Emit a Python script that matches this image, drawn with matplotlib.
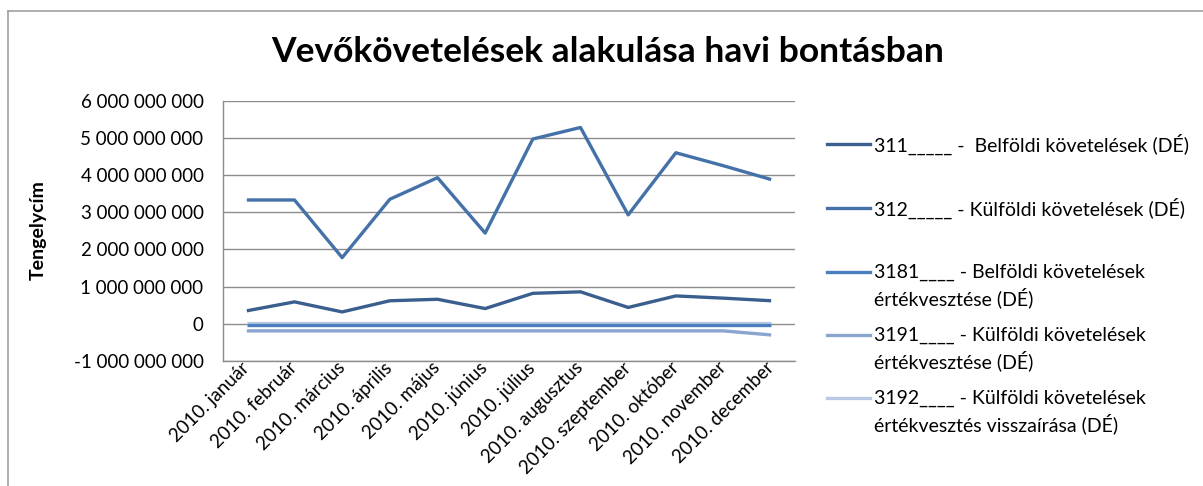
import matplotlib.pyplot as plt
from matplotlib.lines import Line2D
from matplotlib.ticker import FuncFormatter, MultipleLocator

plt.rcParams['font.family'] = ['Lato', 'DejaVu Sans']

# month names on the category axis
months = ['2010. január', '2010. február', '2010. március', '2010. április',
          '2010. május', '2010. június', '2010. július', '2010. augusztus',
          '2010. szeptember', '2010. október', '2010. november', '2010. december']

# values (Ft)
s311 = [0.35e9, 0.59e9, 0.32e9, 0.62e9, 0.66e9, 0.41e9, 0.82e9, 0.86e9, 0.44e9, 0.75e9, 0.69e9, 0.62e9]
s312 = [3.33e9, 3.33e9, 1.78e9, 3.35e9, 3.93e9, 2.44e9, 4.97e9, 5.28e9, 2.93e9, 4.60e9, 4.25e9, 3.88e9]
s3181 = [-0.04e9] * 12
s3191 = [-0.19e9, -0.19e9, -0.19e9, -0.19e9, -0.19e9, -0.19e9, -0.19e9, -0.19e9, -0.19e9, -0.19e9, -0.19e9, -0.30e9]
s3192 = [0.03e9] * 12

labels = ['311_____ -  Belföldi követelések (DÉ)',
          '312_____ - Külföldi követelések (DÉ)',
          '3181____ - Belföldi követelések\nértékvesztése (DÉ)',
          '3191____ - Külföldi követelések\nértékvesztése (DÉ)',
          '3192____ - Külföldi követelések\nértékvesztés visszaírása (DÉ)']
series = [s311, s312, s3181, s3191, s3192]
colors = ['#3A5E8E', '#4571A9', '#4A7EBD', '#8AA5CE', '#B9CAE4']
zorders = [5, 5, 4, 3, 2]

W, H = 1203, 486
fig = plt.figure(figsize=(W / 100, H / 100), dpi=100)
ax = fig.add_axes([223 / W, 1 - 361 / H, (795 - 223) / W, (361 - 100.7) / H])

x = range(len(months))
for s, c, z in zip(series, colors, zorders):
    ax.plot(x, s, color=c, lw=2.4, zorder=z, solid_capstyle='butt')

ax.set_xlim(-0.5, len(months) - 0.5)
ax.set_ylim(-1e9, 6e9)
ax.yaxis.set_major_locator(MultipleLocator(1e9))
ax.yaxis.set_major_formatter(FuncFormatter(lambda v, p: f"{int(round(v)):,}".replace(',', ' ')))
ax.grid(axis='y', color='#8C8C8C', lw=1.0)
ax.set_axisbelow(True)
for sp in ['top', 'right']:
    ax.spines[sp].set_visible(False)
for sp in ['left', 'bottom']:
    ax.spines[sp].set_color('#8C8C8C')
    ax.spines[sp].set_linewidth(1.0)
ax.tick_params(axis='y', length=0, pad=14, labelsize=13.5)
ax.tick_params(axis='x', length=0, pad=3)
ax.set_xticks(list(x))
ax.set_xticklabels(months, rotation=45, ha='right', va='center', rotation_mode='anchor', fontsize=13.5)

ax.set_ylabel('Tengelycím', fontsize=14, fontweight='bold')
ax.yaxis.set_label_coords(47 / W, 1 - 230 / H, transform=fig.transFigure)

fig.text(608 / W, 1 - 52 / H, 'Vevőkövetelések alakulása havi bontásban',
         ha='center', va='center', fontsize=25.5, fontweight='bold')

# legend drawn by hand so the marker sits at the first text line
leg_y = [144, 208, 272, 335, 398]
for lab, c, yp in zip(labels, colors, leg_y):
    yf = 1 - yp / H
    fig.add_artist(Line2D([827 / W, 870 / W], [yf, yf], color=c, lw=2.4))
    for i, line in enumerate(lab.split('\n')):
        fig.text(874 / W, 1 - (yp + 26 * i) / H, line, ha='left', va='center', fontsize=14)

# outer chart frame (top and left edges only are visible)
fig.add_artist(Line2D([8 / W, 1], [1 - 11 / H, 1 - 11 / H], color='#A0A0A0', lw=1.2))
fig.add_artist(Line2D([8 / W, 8 / W], [0, 1 - 11 / H], color='#A0A0A0', lw=1.2))

fig.savefig('out.png', dpi=100)
